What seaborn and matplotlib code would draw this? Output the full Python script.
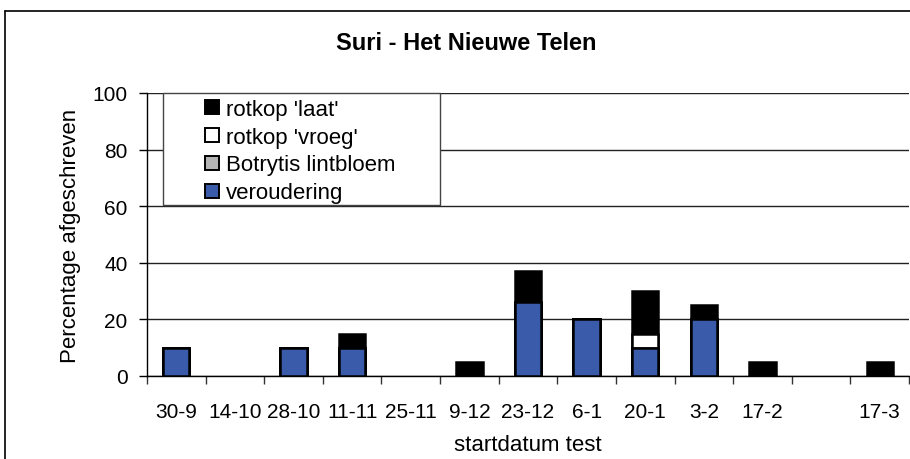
import numpy as np
import pandas as pd
import matplotlib
matplotlib.use("Agg")
import matplotlib.pyplot as plt
from matplotlib.lines import Line2D
from matplotlib.patches import Rectangle
import seaborn as sns

# Start dates of the vase-life tests (one slot has no date)
categories = ["30-9", "14-10", "28-10", "11-11", "25-11", "9-12", "23-12",
              "6-1", "20-1", "3-2", "17-2", "", "17-3"]

# Percentage written off per cause, stacked bottom to top
veroudering = [10, 0, 10, 10, 0, 0, 26, 20, 10, 20, 0, 0, 0]
botrytis = [0, 0, 0, 0, 0, 0, 0, 0, 0, 0, 0, 0, 0]
rotkop_vroeg = [0, 0, 0, 0, 0, 0, 0, 0, 5, 0, 0, 0, 0]
rotkop_laat = [0, 0, 0, 5, 0, 5, 11, 0, 15, 5, 5, 0, 5]

series_names = ["veroudering", "Botrytis lintbloem", "rotkop 'vroeg'", "rotkop 'laat'"]
series_values = [veroudering, botrytis, rotkop_vroeg, rotkop_laat]
series_colors = ["#3A5BAA", "#B4B4B4", "#FFFFFF", "#000000"]

sns.set_theme(style="white")
plt.rcParams["font.family"] = ["Liberation Sans", "DejaVu Sans"]

fig = plt.figure(figsize=(9.1, 4.6), dpi=100)
W, H = 910, 460
ax = fig.add_axes([147 / W, (H - 377) / H, (909 - 147) / W, (377 - 94) / H])

# Stacked bars: draw cumulative totals from the top layer down,
# so each lower layer is painted over the one above it.
cumulative = np.cumsum(np.array(series_values, dtype=float), axis=0)
for i in range(len(series_names) - 1, -1, -1):
    top = cumulative[i]
    df = pd.DataFrame({"datum": categories,
                       "pct": np.where(top > 0, top, np.nan)})
    sns.barplot(data=df, x="datum", y="pct", order=categories, ax=ax,
                color=series_colors[i], saturation=1, width=0.45,
                edgecolor="black", linewidth=1.8, errorbar=None, zorder=3)

ax.set_xlim(-0.5, len(categories) - 0.5)
ax.set_ylim(0, 100)
ax.set_yticks([0, 20, 40, 60, 80, 100])
ax.yaxis.grid(True, color="#222222", linewidth=1.0, zorder=0)
ax.xaxis.grid(False)
ax.set_axisbelow(True)

ax.set_xticks(range(len(categories)))
ax.set_xticklabels(categories, fontsize=15)
ax.set_xticks(np.arange(-0.5, len(categories)), minor=True)
ax.tick_params(axis="x", which="major", length=0, pad=19, colors="black")
ax.tick_params(axis="x", which="minor", length=6, width=1, direction="out",
               color="#333333", bottom=True)
ax.tick_params(axis="y", length=6, width=1, direction="out", pad=8,
               labelsize=15, color="black", labelcolor="black", left=True)

for s in ["top", "right"]:
    ax.spines[s].set_visible(False)
for s in ["left", "bottom"]:
    ax.spines[s].set_color("black")
    ax.spines[s].set_linewidth(1.0)

ax.set_xlabel("startdatum test", fontsize=16, labelpad=9, color="black")
ax.set_ylabel("Percentage afgeschreven", fontsize=16, labelpad=8, color="black")

# Legend box
ax.add_patch(Rectangle((0.021, 0.604), 0.364, 0.396, transform=ax.transAxes,
                       facecolor="white", edgecolor="#444444", linewidth=1.0,
                       zorder=4, clip_on=False))
handles = [Line2D([], [], linestyle="none", marker="s", markersize=9.5,
                  markerfacecolor=c, markeredgecolor="black", markeredgewidth=1.4)
           for c in series_colors[::-1]]
leg = ax.legend(handles, series_names[::-1], loc="upper left",
                bbox_to_anchor=(0.053, 1.035), frameon=False, fontsize=16,
                handlelength=0.8, handletextpad=0.25, labelspacing=0.31,
                borderpad=0.2)
leg.set_zorder(5)
for t in leg.get_texts():
    t.set_color("black")

fig.text(466 / W, 1 - 43 / H, "Suri - Het Nieuwe Telen",
         fontsize=17, fontweight="bold", ha="center", va="center",
         color="black")

# Outer chart frame
fig.add_artist(Line2D([5 / W, 1], [1 - 12 / H, 1 - 12 / H], color="black",
                      linewidth=1.2, transform=fig.transFigure))
fig.add_artist(Line2D([5 / W, 5 / W], [0, 1 - 12 / H], color="black",
                      linewidth=1.2, transform=fig.transFigure))

fig.savefig("out.png", dpi=100, facecolor="white")
